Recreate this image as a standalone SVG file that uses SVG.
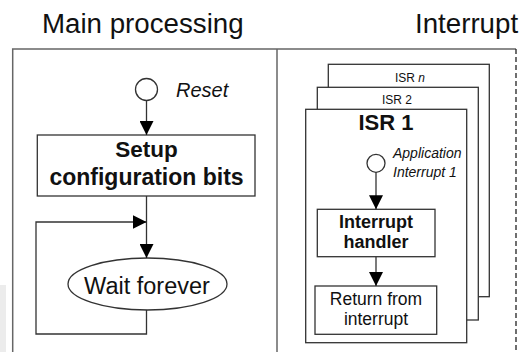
<svg xmlns="http://www.w3.org/2000/svg" width="519" height="352" viewBox="0 0 519 352">
<defs>
<style>
text{font-family:"Liberation Sans",Arial,sans-serif;fill:#111}
.frame{fill:none;stroke:#666;stroke-width:1.5}
.box{fill:#fff;stroke:#333;stroke-width:1.3}
.line{fill:none;stroke:#333;stroke-width:1.3}
.c{text-anchor:middle}
</style>
<marker id="arr" markerUnits="userSpaceOnUse" markerWidth="16" markerHeight="14" refX="14" refY="7" orient="auto">
<path d="M0,0 L14,7 L0,14 Z" fill="#000"/>
</marker>
</defs>
<rect x="0" y="285" width="6" height="67" fill="#ececec"/>
<g id="titles">
<text x="42" y="33" font-size="27.7">Main processing</text>
<text x="415" y="33" font-size="27.7">Interrupt</text>
</g>
<g id="frames">
<path class="frame" d="M12.7,352 V49 H516"/>
<line class="frame" x1="277" y1="49" x2="277" y2="352"/>
<line x1="516" y1="49" x2="516" y2="352" stroke="#222" stroke-width="1.3" stroke-dasharray="5,3"/>
</g>
<g id="isr-n">
<rect class="box" x="328.3" y="64.3" width="161" height="232.4"/>
<text x="410" y="81.5" font-size="12" class="c">ISR <tspan font-style="italic">n</tspan></text>
</g>
<g id="isr-2">
<rect class="box" x="317.3" y="87.3" width="161" height="232.7"/>
<text x="397" y="104" font-size="12" class="c">ISR 2</text>
</g>
<g id="isr-1">
<rect class="box" x="305.7" y="109.3" width="161" height="233.4"/>
<text x="386" y="130" font-size="22" font-weight="bold" class="c">ISR 1</text>
</g>
<g id="reset">
<circle cx="146.5" cy="89.5" r="11" fill="#fff" stroke="#333" stroke-width="1.3"/>
<text x="176" y="97" font-size="20" font-style="italic">Reset</text>
</g>
<g id="setup">
<rect class="box" x="37.3" y="135" width="217.7" height="61"/>
<text x="146.5" y="157" font-size="22.5" font-weight="bold" class="c">Setup</text>
<text x="146.5" y="185" font-size="23" font-weight="bold" class="c">configuration bits</text>
</g>
<g id="wait">
<ellipse cx="147.5" cy="284" rx="79.5" ry="26" fill="#fff" stroke="#333" stroke-width="1.3"/>
<text x="147" y="294" font-size="23.5" class="c">Wait forever</text>
</g>
<g id="app-int">
<circle cx="376" cy="163.3" r="9" fill="#fff" stroke="#333" stroke-width="1.3"/>
<text x="393" y="158" font-size="14" font-style="italic">Application</text>
<text x="393" y="176.5" font-size="14" font-style="italic">Interrupt 1</text>
</g>
<g id="handler">
<rect class="box" x="317.3" y="209.3" width="117.7" height="47.4"/>
<text x="376" y="228.3" font-size="18" font-weight="bold" class="c">Interrupt</text>
<text x="376" y="248.3" font-size="18" font-weight="bold" class="c">handler</text>
</g>
<g id="return">
<rect class="box" x="315" y="286" width="121.7" height="48.3"/>
<text x="376" y="305" font-size="17.5" class="c">Return from</text>
<text x="376" y="325" font-size="17.5" class="c">interrupt</text>
</g>
<g id="connectors">
<line class="line" x1="146.5" y1="100.5" x2="146.5" y2="135" marker-end="url(#arr)"/>
<line class="line" x1="146.5" y1="196" x2="146.5" y2="258" marker-end="url(#arr)"/>
<path class="line" d="M146.5,310 V334 H36 V222 H146.5" marker-end="url(#arr)"/>
<line class="line" x1="376" y1="172.3" x2="376" y2="209.3" marker-end="url(#arr)"/>
<line class="line" x1="376" y1="256.7" x2="376" y2="286" marker-end="url(#arr)"/>
</g>
</svg>
